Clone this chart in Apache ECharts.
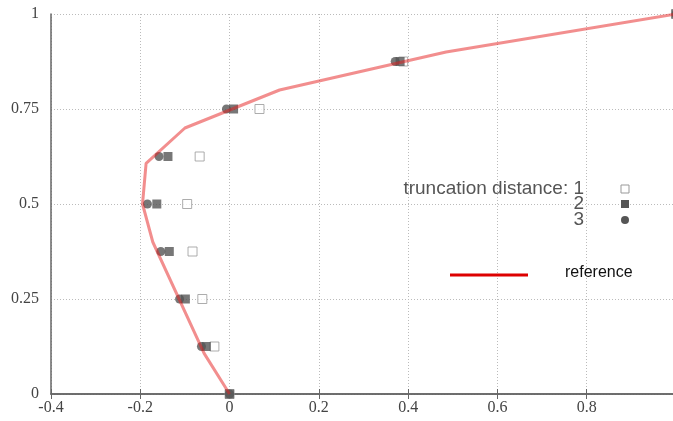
<!DOCTYPE html>
<html>
<head>
<meta charset="utf-8">
<script src="https://cdn.jsdelivr.net/npm/echarts@6/dist/echarts.min.js"></script>
<style>
  html, body { margin: 0; padding: 0; background: #fff; }
  #chart { width: 673px; height: 421px; }
</style>
</head>
<body>
<div id="chart"></div>
<script>
// y levels where the truncated results were sampled
const yLevels = [0, 0.125, 0.25, 0.375, 0.5, 0.625, 0.75, 0.875, 1]
// x values per truncation distance
const dist1X = [0, -0.034, -0.061, -0.083, -0.095, -0.067, 0.067, 0.389, 1]
const dist2X = [0, -0.052, -0.099, -0.135, -0.163, -0.138, 0.009, 0.382, 1]
const dist3X = [0, -0.063, -0.112, -0.154, -0.184, -0.158, -0.007, 0.371, 1]
// reference curve
const refX = [0, -0.057, -0.172, -0.195, -0.187, -0.1, 0.112, 0.485, 1]
const refY = [0, 0.107, 0.4, 0.5, 0.607, 0.7, 0.8, 0.9, 1]

const pairs = (xs, ys) => xs.map((x, i) => [x, ys[i]])

const serif = '"Liberation Serif", "DejaVu Serif", serif'
const sans = '"Liberation Sans", Arial, sans-serif'
const axisGray = '#666'
const gridLine = { show: true, lineStyle: { color: '#bbb', type: [1, 2], width: 1 } }

const chart = echarts.init(document.getElementById('chart'))
const option = {
  animation: false,
  grid: { left: 51, right: -3, top: 14, bottom: 27, containLabel: false, outerBoundsMode: 'none' },
  xAxis: [
    {
      type: 'value',
      min: -0.4,
      max: 1,
      interval: 0.2,
      axisLine: { show: true, onZero: false, lineStyle: { color: axisGray, width: 1.5 } },
      axisTick: { show: true, inside: true, length: 5, lineStyle: { color: axisGray } },
      axisLabel: { fontFamily: serif, fontSize: 16, color: '#444', margin: 6 },
      splitLine: gridLine
    },
    {
      type: 'value',
      position: 'top',
      min: -0.4,
      max: 1,
      interval: 0.2,
      axisLine: { show: true, lineStyle: { color: axisGray, width: 1.5 } },
      axisTick: { show: true, inside: true, length: 5, lineStyle: { color: axisGray } },
      axisLabel: { show: false },
      splitLine: { show: false }
    }
  ],
  yAxis: {
    type: 'value',
    min: 0,
    max: 1,
    interval: 0.25,
    axisLine: { show: true, onZero: false, lineStyle: { color: axisGray, width: 1.5 } },
    axisTick: { show: false },
    axisLabel: { fontFamily: serif, fontSize: 16, color: '#444', margin: 12 },
    splitLine: gridLine
  },
  series: [
    {
      name: '1',
      type: 'scatter',
      symbol: 'rect',
      symbolSize: 9,
      itemStyle: { color: '#fff', borderColor: '#999', borderWidth: 1 },
      data: pairs(dist1X, yLevels),
      z: 2
    },
    {
      name: '2',
      type: 'scatter',
      symbol: 'rect',
      symbolSize: 9,
      itemStyle: { color: '#555' },
      data: pairs(dist2X, yLevels),
      z: 3
    },
    {
      name: '3',
      type: 'scatter',
      symbol: 'circle',
      symbolSize: 9,
      itemStyle: { color: '#555' },
      data: pairs(dist3X, yLevels),
      z: 4
    },
    {
      name: 'reference',
      type: 'line',
      showSymbol: false,
      lineStyle: { color: 'rgba(230, 30, 30, 0.5)', width: 3 },
      data: pairs(refX, refY),
      z: 5
    }
  ],
  graphic: [
    {
      type: 'text', x: 584, y: 189, z: 10,
      style: { text: 'truncation distance: 1', font: '19px ' + sans, fill: '#555', align: 'right', verticalAlign: 'middle' }
    },
    {
      type: 'text', x: 584, y: 204, z: 10,
      style: { text: '2', font: '19px ' + sans, fill: '#555', align: 'right', verticalAlign: 'middle' }
    },
    {
      type: 'text', x: 584, y: 220, z: 10,
      style: { text: '3', font: '19px ' + sans, fill: '#555', align: 'right', verticalAlign: 'middle' }
    },
    {
      type: 'rect', z: 10, shape: { x: 621, y: 185, width: 8, height: 8 },
      style: { fill: '#fff', stroke: '#999', lineWidth: 1 }
    },
    {
      type: 'rect', z: 10, shape: { x: 621, y: 200, width: 8, height: 8 },
      style: { fill: '#555' }
    },
    {
      type: 'circle', z: 10, shape: { cx: 625, cy: 220, r: 4 },
      style: { fill: '#555' }
    },
    {
      type: 'line', z: 10, shape: { x1: 450, y1: 275, x2: 528, y2: 275 },
      style: { stroke: '#dd0000', lineWidth: 3 }
    },
    {
      type: 'text', x: 565, y: 273, z: 10,
      style: { text: 'reference', font: '16px ' + sans, fill: '#111', verticalAlign: 'middle' }
    }
  ]
}
chart.setOption(option)
window.addEventListener('resize', () => chart.resize())
</script>
</body>
</html>
